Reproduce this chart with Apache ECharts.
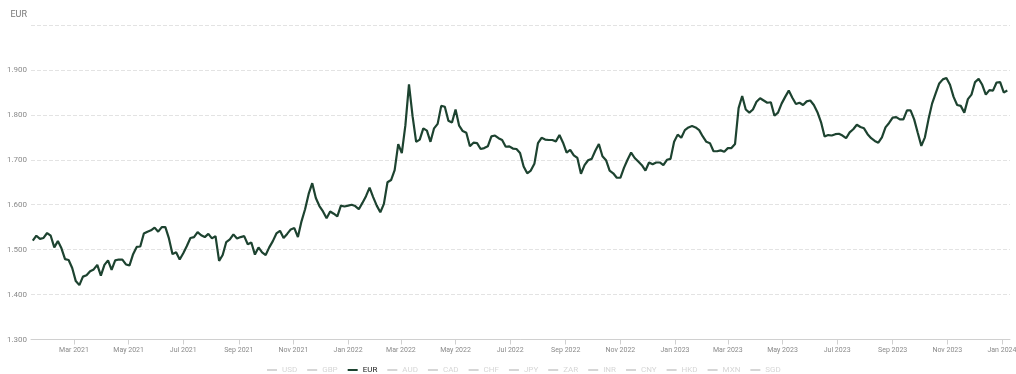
<!DOCTYPE html>
<html>
<head>
<meta charset="utf-8">
<script src="https://cdn.jsdelivr.net/npm/echarts@6/dist/echarts.min.js"></script>
<style>
html,body{margin:0;padding:0;background:#fff;}
#chart{width:1016px;height:374px;}
</style>
</head>
<body>
<div id="chart"></div>
<script>
// Currency legend entries (only EUR is selected in the reference)
const currencies = ['USD','GBP','EUR','AUD','CAD','CHF','JPY','ZAR','INR','CNY','HKD','MXN','SGD'];
// First sample date and sampling step (days)
const startDate = '2021-01-14';
const stepDays = 4;
// Visible time range of the axis
const axisStart = '2021-01-12';
const axisEnd = '2024-01-10';
// EUR values, one per sample
const eurValues = [
1.520,1.531,1.524,1.526,1.537,1.531,1.505,1.519,1.503,1.479,
1.477,1.459,1.430,1.421,1.440,1.443,1.452,1.456,1.466,1.442,
1.466,1.476,1.455,1.476,1.478,1.478,1.467,1.465,1.490,1.506,
1.507,1.536,1.540,1.543,1.549,1.540,1.550,1.550,1.525,1.490,
1.494,1.478,1.492,1.508,1.526,1.528,1.539,1.532,1.528,1.535,
1.525,1.530,1.475,1.488,1.517,1.523,1.534,1.525,1.528,1.530,
1.512,1.516,1.489,1.505,1.494,1.488,1.505,1.519,1.536,1.542,
1.526,1.535,1.545,1.548,1.528,1.563,1.590,1.624,1.648,1.615,
1.597,1.585,1.570,1.585,1.580,1.574,1.598,1.596,1.598,1.600,
1.597,1.590,1.604,1.619,1.638,1.617,1.598,1.583,1.602,1.650,
1.655,1.677,1.735,1.715,1.777,1.868,1.797,1.740,1.745,1.770,
1.765,1.740,1.770,1.780,1.820,1.818,1.787,1.783,1.812,1.776,
1.764,1.760,1.730,1.738,1.737,1.724,1.726,1.730,1.752,1.754,
1.748,1.744,1.729,1.730,1.725,1.724,1.715,1.685,1.670,1.676,
1.691,1.737,1.749,1.745,1.744,1.744,1.741,1.755,1.738,1.716,
1.722,1.710,1.704,1.669,1.688,1.699,1.702,1.720,1.735,1.708,
1.699,1.676,1.670,1.660,1.660,1.682,1.700,1.716,1.704,1.696,
1.688,1.676,1.694,1.690,1.694,1.694,1.688,1.700,1.702,1.740,
1.756,1.749,1.766,1.772,1.775,1.772,1.766,1.752,1.740,1.737,
1.719,1.719,1.721,1.718,1.726,1.726,1.735,1.815,1.842,1.812,
1.805,1.812,1.829,1.837,1.832,1.827,1.828,1.798,1.805,1.825,
1.840,1.854,1.838,1.824,1.827,1.822,1.830,1.832,1.822,1.806,
1.784,1.752,1.755,1.754,1.757,1.758,1.754,1.748,1.761,1.768,
1.778,1.773,1.770,1.757,1.748,1.742,1.738,1.750,1.772,1.782,
1.794,1.795,1.790,1.790,1.810,1.810,1.790,1.760,1.731,1.750,
1.790,1.825,1.848,1.870,1.879,1.882,1.867,1.840,1.822,1.820,
1.805,1.835,1.845,1.873,1.880,1.867,1.845,1.855,1.854,1.872,
1.873,1.850,1.854
];
// Y axis range
const yMin = 1.3, yMax = 2.0, yStep = 0.1;

const t0 = new Date(startDate + 'T00:00:00').getTime();
const DAY = 86400000;
const eurData = eurValues.map((v, i) => [t0 + i * stepDays * DAY, v]);

const lineColor = '#1d4330';
const series = currencies.map(c => ({
  name: c,
  type: 'line',
  showSymbol: false,
  symbol: 'none',
  data: c === 'EUR' ? eurData : [],
  lineStyle: { width: 2.2, color: c === 'EUR' ? lineColor : '#ccc' },
  itemStyle: { color: c === 'EUR' ? lineColor : '#ccc' }
}));
const selected = {};
currencies.forEach(c => selected[c] = (c === 'EUR'));

const chart = echarts.init(document.getElementById('chart'));
chart.setOption({
  animation: false,
  grid: { left: 31, right: 6, top: 25, bottom: 34.5, containLabel: false, outerBoundsMode: 'none' },
  legend: {
    data: currencies,
    selected: selected,
    left: 262,
    top: 361,
    icon: 'rect',
    itemWidth: 10,
    itemHeight: 2,
    itemGap: 10,
    inactiveColor: '#d6d6d6',
    textStyle: { fontSize: 8, color: '#222', fontFamily: 'Roboto, sans-serif' }
  },
  xAxis: {
    type: 'time',
    min: new Date(axisStart + 'T00:00:00').getTime(),
    max: new Date(axisEnd + 'T00:00:00').getTime(),
    splitNumber: 18,
    axisLine: { lineStyle: { color: '#d0d0d0', width: 1 } },
    axisTick: { show: true, length: 5, lineStyle: { color: '#d0d0d0' } },
    splitLine: { show: false },
    axisLabel: {
      formatter: '{MMM} {yyyy}',
      fontSize: 7,
      color: '#8a8a8a',
      margin: 7,
      fontFamily: 'Roboto, sans-serif',
      showMinLabel: false,
      showMaxLabel: false
    }
  },
  yAxis: {
    type: 'value',
    min: yMin,
    max: yMax,
    interval: yStep,
    name: 'EUR',
    nameLocation: 'end',
    nameGap: 6,
    nameTextStyle: { align: 'right', padding: [0, 4, 0, 0], color: '#777', fontSize: 9, fontFamily: 'Roboto, sans-serif' },
    axisLine: { show: false },
    axisTick: { show: false },
    splitLine: { lineStyle: { type: 'dashed', color: '#e3e3e3', width: 1 } },
    axisLabel: {
      fontSize: 8,
      color: '#8a8a8a',
      margin: 4,
      fontFamily: 'Roboto, sans-serif',
      formatter: v => Math.abs(v - yMax) < 1e-9 ? '' : v.toFixed(3)
    }
  },
  series: series
});
</script>
</body>
</html>
